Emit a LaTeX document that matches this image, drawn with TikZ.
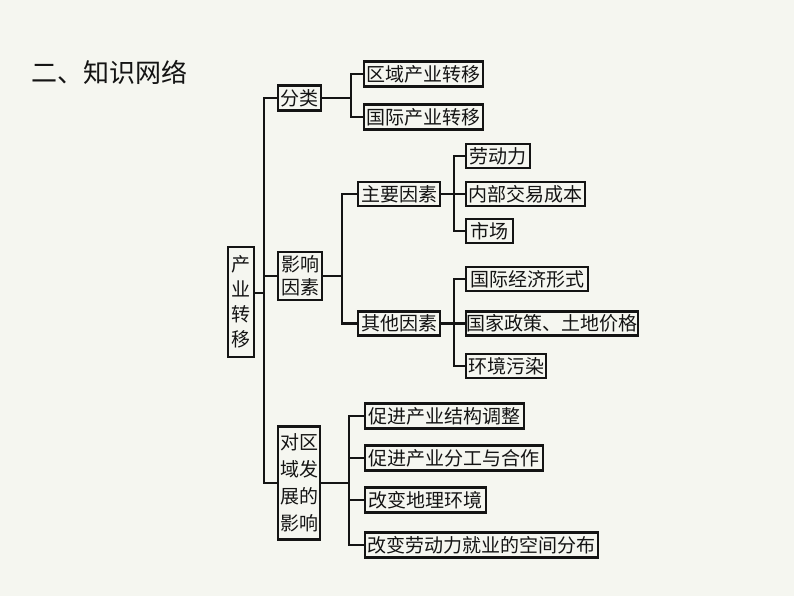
\documentclass[tikz,border=0pt]{standalone}
\usepackage{fontspec}
\newfontfamily\cjk{Noto Sans CJK SC}
\definecolor{bg}{RGB}{245,246,240}
\definecolor{ink}{RGB}{20,20,20}
\begin{document}
\begin{tikzpicture}[x=1pt,y=-1pt,
  box/.style={draw=ink, text=ink, line width=2.3pt, inner sep=0pt, anchor=west,
    minimum height=24pt, font=\cjk\fontsize{19}{22}\selectfont},
  vbox/.style={box, align=center},
  conn/.style={draw=ink, line width=2.3pt},
  title/.style={text=ink, anchor=west, inner sep=0pt, font=\cjk\fontsize{26}{30}\selectfont}]
\fill[bg] (0,0) rectangle (794,596);
\useasboundingbox (0,0) rectangle (794,596);

\node[title] (t) at (31,72) {二、知识网络};

\node[vbox, minimum width=26pt, minimum height=110pt, font=\cjk\fontsize{19}{25}\selectfont] (r) at (227,302) {产\\业\\转\\移};
\node[box, minimum width=43pt, minimum height=25pt] (fl) at (277,98) {分类};
\node[vbox, minimum width=44pt, minimum height=48pt, font=\cjk\fontsize{19}{23}\selectfont] (yx) at (277,276) {影响\\因素};
\node[vbox, minimum width=42pt, minimum height=113pt, font=\cjk\fontsize{19}{27}\selectfont] (dq) at (277,483) {对区\\域发\\展的\\影响};

\node[box, minimum width=119pt, minimum height=25pt] (q1) at (363,74) {区域产业转移};
\node[box, minimum width=119pt, minimum height=25pt] (q2) at (363,117) {国际产业转移};

\node[box, minimum width=82pt] (zy) at (357,194) {主要因素};
\node[box, minimum width=82pt] (qt) at (357,323.5) {其他因素};

\node[box, minimum width=64pt] (a1) at (465,156) {劳动力};
\node[box, minimum width=119pt] (a2) at (465,194) {内部交易成本};
\node[box, minimum width=47pt] (a3) at (465,231) {市场};

\node[box, minimum width=122pt] (b1) at (465,279) {国际经济形式};
\node[box, minimum width=172pt] (b2) at (465,323.5) {国家政策、土地价格};
\node[box, minimum width=80pt] (b3) at (465,366) {环境污染};

\node[box, minimum width=159pt, minimum height=25pt] (c1) at (364,416) {促进产业结构调整};
\node[box, minimum width=178pt, minimum height=25pt] (c2) at (364,458) {促进产业分工与合作};
\node[box, minimum width=121pt, minimum height=25pt] (c3) at (364,500) {改变地理环境};
\node[box, minimum width=233pt, minimum height=25pt] (c4) at (364,545) {改变劳动力就业的空间分布};

% root connectors
\coordinate (rj) at (264,293);
\draw[conn] (r.east |- rj) -- (rj);
\draw[conn] (fl.west) -- ++(-13,0) |- (dq.west);
\draw[conn] (yx.west) -- ++(-13,0);

% 分类
\draw[conn] (q1.west) -- ++(-12,0) |- (q2.west);
\draw[conn] (fl.east) -- ([xshift=-12pt]q1.west |- fl.east);

% 影响因素
\draw[conn] (zy.west) -- ++(-15,0) |- (qt.west);
\draw[conn] (yx.east) -- ([xshift=-15pt]zy.west |- yx.east);

% 主要因素
\draw[conn] (a1.west) -- ++(-11,0) |- (a3.west);
\draw[conn] (zy.east) -- (a2.west);

% 其他因素
\draw[conn] (b1.west) -- ++(-11,0) |- (b3.west);
\draw[conn] (qt.east) -- (b2.west);

% 对区域发展的影响
\draw[conn] (c1.west) -- ++(-15,0) |- (c4.west);
\draw[conn] (c2.west) -- ++(-15,0);
\draw[conn] (c3.west) -- ++(-15,0);
\draw[conn] (dq.east) -- ([xshift=-15pt]c1.west |- dq.east);
\end{tikzpicture}
\end{document}
